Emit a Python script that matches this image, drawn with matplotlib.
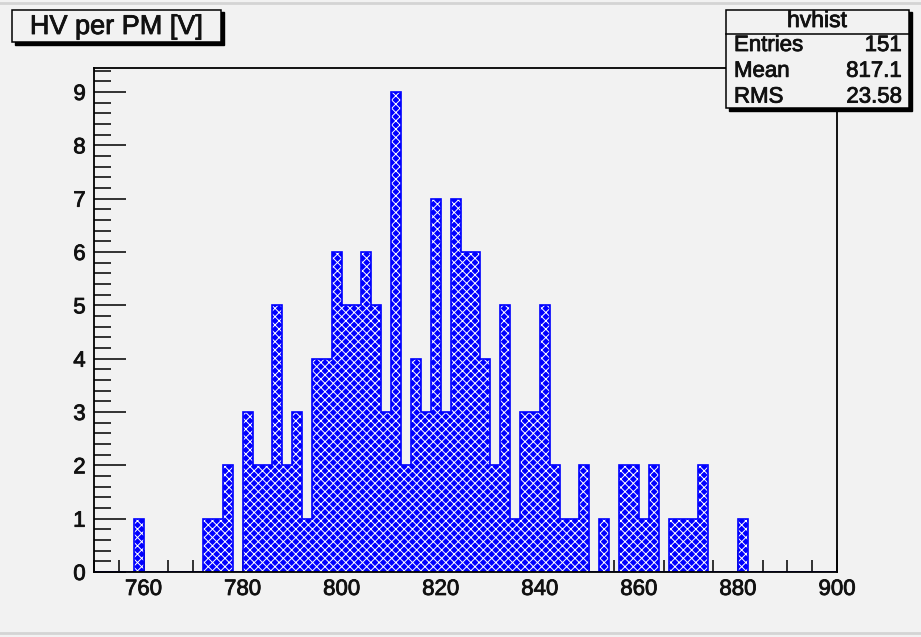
import numpy as np
import matplotlib
matplotlib.use("Agg")
import matplotlib.pyplot as plt
import matplotlib.patheffects as pe
from matplotlib.patches import Rectangle
from matplotlib.lines import Line2D
from matplotlib.ticker import MultipleLocator

# histogram "hvhist": 75 bins of 2 V between 750 and 900
x_lo, x_hi, bin_w = 750, 900, 2
counts = [0, 0, 0, 0, 1, 0, 0, 0, 0, 0,
          0, 1, 1, 2, 0, 3, 2, 2, 5, 2,
          3, 1, 4, 4, 6, 5, 5, 6, 5, 3,
          9, 2, 4, 3, 7, 3, 7, 6, 6, 4,
          2, 5, 1, 3, 3, 5, 2, 1, 1, 2,
          0, 1, 0, 2, 2, 1, 2, 0, 1, 1,
          1, 2, 0, 0, 0, 1, 0, 0, 0, 0,
          0, 0, 0, 0, 0]
x_ticks = [760, 780, 800, 820, 840, 860, 880, 900]
y_ticks = [0, 1, 2, 3, 4, 5, 6, 7, 8, 9]
title = "HV per PM [V]"
stats_name = "hvhist"
stats_rows = [("Entries", "151"), ("Mean", "817.1"), ("RMS", "23.58")]

W, H = 921, 637
bg = "#f2f2f2"
ink = '#111111'
plt.rcParams['font.family'] = ['Liberation Sans', 'DejaVu Sans']
plt.rcParams['hatch.linewidth'] = 0.7
heavy = [pe.withStroke(linewidth=0.6, foreground=ink)]  # X11 fonts look a bit heavier

fig = plt.figure(figsize=(W / 100, H / 100), dpi=100, facecolor=bg)
ax = fig.add_axes([94 / W, 1 - 572 / H, 743 / W, 504 / H], facecolor=bg)

edges = np.arange(x_lo, x_hi + bin_w, bin_w)
ax.bar(edges[:-1], counts, width=bin_w, align='edge', color='#0000ff',
       edgecolor='white', linewidth=0, hatch='xxxx', zorder=2)
ax.stairs(counts, edges, color='#0000ff', linewidth=1.2, zorder=3)

ax.set_xlim(x_lo, x_hi)
ax.set_ylim(0, max(counts) * 1.05)
ax.set_xticks(x_ticks)
ax.set_yticks(y_ticks)
ax.xaxis.set_minor_locator(MultipleLocator(5))
ax.yaxis.set_minor_locator(MultipleLocator(0.2))
ax.tick_params(which='both', top=False, right=False, direction='in',
               width=1.2, color=ink)
ax.tick_params(which='major', labelsize=16, labelcolor=ink)
ax.tick_params(axis='x', which='major', length=16, pad=5)
ax.tick_params(axis='x', which='minor', length=9)
ax.tick_params(axis='y', which='major', length=23, pad=6)
ax.tick_params(axis='y', which='minor', length=12)
for lab in ax.get_xticklabels() + ax.get_yticklabels():
    lab.set_path_effects(heavy)
for s in ax.spines.values():
    s.set_linewidth(1.3)
    s.set_zorder(4)


def px(x, y):
    return x / W, 1 - y / H


def box(x0, y0, x1, y1):
    # ROOT style box with a dark shadow at the lower right
    sx, sy = px(x0 + 3, y1 + 3)
    fig.add_artist(Rectangle((sx, sy), (x1 - x0) / W, (y1 - y0) / H,
                             transform=fig.transFigure, facecolor='black',
                             edgecolor='black', zorder=5))
    bx, by = px(x0, y1)
    fig.add_artist(Rectangle((bx, by), (x1 - x0) / W, (y1 - y0) / H,
                             transform=fig.transFigure, facecolor=bg,
                             edgecolor='black', linewidth=1.1, zorder=6))


# title box
box(12, 9.5, 221, 42)
fig.text(*px(116.5, 27), title, ha='center', va='center', fontsize=19.5,
         color=ink, zorder=7, path_effects=heavy)

# stats box
box(726, 9.5, 909, 108)
fig.add_artist(Line2D([726 / W, 909 / W], [1 - 33.5 / H] * 2,
                      transform=fig.transFigure, color='black', linewidth=1.1, zorder=7))
fig.text(*px(817, 20.5), stats_name, ha='center', va='center', fontsize=16.5,
         color=ink, zorder=7, path_effects=heavy)
for i, (k, v) in enumerate(stats_rows):
    yy = 45.5 + i * 25.8
    fig.text(*px(734, yy), k, ha='left', va='center', fontsize=16,
             color=ink, zorder=7, path_effects=heavy)
    fig.text(*px(902, yy), v, ha='right', va='center', fontsize=16,
             color=ink, zorder=7, path_effects=heavy)

# canvas edge lines
for yy in (2.5, 633):
    fig.add_artist(Line2D([0, 1], [1 - yy / H] * 2, transform=fig.transFigure,
                          color='#d4d4d4', linewidth=2))

fig.savefig("out.png", dpi=100, facecolor=bg)
